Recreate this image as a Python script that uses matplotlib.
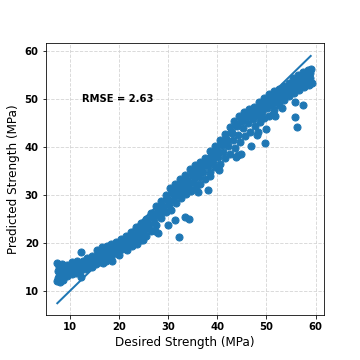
import matplotlib
matplotlib.use("Agg")
import matplotlib.pyplot as plt

line_x = [7.5, 59.0]
line_y = [7.5, 59.0]

# Upper edge of the point band
upper_x = [7.5, 8.5, 9.5, 10.5, 11.5, 12.4, 13.5, 14.5, 15.5, 16.5, 17.5, 18.5, 19.5, 20.5, 21.5, 22.5, 23.5, 24.5, 25.5, 26.5, 27.5, 28.5, 29.5, 30.5, 31.5, 32.5, 33.5, 34.5, 35.5, 36.5, 37.5, 38.5, 39.5, 40.5, 41.5, 42.5, 43.5, 44.5, 45.5, 46.5, 47.5, 48.5, 49.5, 50.5, 51.5, 52.5, 53.5, 54.5, 55.5, 56.5, 57.5, 58.5, 59.0]
upper_y = [15.8, 15.6, 15.5, 16.0, 16.4, 18.2, 17.0, 17.4, 18.6, 19.3, 19.5, 19.8, 20.3, 20.9, 21.6, 22.4, 23.4, 24.2, 25.0, 26.2, 27.8, 28.7, 30.0, 31.5, 32.4, 33.3, 34.2, 35.4, 36.2, 37.0, 37.8, 39.2, 40.3, 41.4, 42.8, 44.2, 45.5, 46.6, 47.4, 48.0, 48.4, 49.4, 50.3, 51.0, 51.6, 52.2, 52.8, 53.4, 54.4, 55.0, 55.6, 56.0, 56.2]

# Between the upper edge and the middle
upper_mid_x = [7.8, 8.8, 9.8, 10.8, 11.8, 12.8, 13.8, 14.8, 15.8, 16.8, 17.8, 18.8, 19.8, 20.8, 21.8, 22.8, 23.8, 24.8, 25.8, 26.8, 27.8, 28.8, 29.8, 30.8, 31.8, 32.8, 33.8, 34.8, 35.8, 36.8, 37.8, 38.8, 39.8, 40.8, 41.8, 42.8, 43.8, 44.8, 45.8, 46.8, 47.8, 48.8, 49.8, 50.8, 51.8, 52.8, 53.8, 54.8, 55.8, 56.8, 57.8, 58.6]
upper_mid_y = [15.0, 14.9, 15.1, 15.6, 15.8, 16.4, 16.6, 17.0, 17.6, 18.2, 18.6, 19.0, 19.6, 20.2, 20.8, 21.6, 22.6, 23.4, 24.2, 25.4, 26.8, 27.8, 29.2, 30.6, 31.4, 32.4, 33.2, 34.4, 35.4, 36.2, 37.0, 38.2, 39.4, 40.6, 41.8, 43.2, 44.6, 45.8, 46.6, 47.2, 47.8, 48.6, 49.4, 50.2, 50.8, 51.6, 52.4, 53.0, 53.8, 54.6, 55.2, 55.6]

# Middle of the band
mid_x = [7.6, 8.2, 9.0, 10.0, 11.0, 12.0, 13.0, 14.0, 15.0, 16.0, 17.0, 18.0, 19.0, 20.0, 21.0, 22.0, 23.0, 24.0, 25.0, 26.0, 27.0, 28.0, 29.0, 30.0, 31.0, 32.0, 33.0, 34.0, 35.0, 36.0, 37.0, 38.0, 39.0, 40.0, 41.0, 42.0, 43.0, 44.0, 45.0, 46.0, 47.0, 48.0, 49.0, 50.0, 51.0, 52.0, 53.0, 54.0, 55.0, 56.0, 57.0, 58.0, 58.8]
mid_y = [14.2, 14.0, 14.4, 14.8, 15.0, 15.4, 15.8, 16.2, 16.8, 17.4, 17.8, 18.2, 18.6, 19.4, 20.0, 20.8, 21.6, 22.4, 23.2, 24.0, 25.4, 26.6, 27.8, 29.0, 30.2, 31.2, 32.0, 32.8, 34.0, 35.0, 36.0, 37.0, 38.2, 39.2, 40.4, 41.6, 43.0, 44.4, 45.4, 46.4, 47.0, 47.8, 48.6, 49.4, 50.0, 50.6, 51.4, 52.2, 53.0, 53.8, 54.4, 55.0, 55.4]

# Between the middle and the lower edge
lower_mid_x = [7.9, 8.5, 9.2, 10.2, 11.2, 12.2, 13.2, 14.2, 15.2, 16.2, 17.2, 18.2, 19.2, 20.2, 21.2, 22.2, 23.2, 24.2, 25.2, 26.2, 27.2, 28.2, 29.2, 30.2, 31.2, 32.2, 33.2, 34.2, 35.2, 36.2, 37.2, 38.2, 39.2, 40.2, 41.2, 42.2, 43.2, 44.2, 45.2, 46.2, 47.2, 48.2, 49.2, 50.2, 51.2, 52.2, 53.2, 54.2, 55.2, 56.2, 57.2, 58.2, 58.9]
lower_mid_y = [13.2, 13.2, 13.8, 14.2, 14.4, 14.8, 15.2, 15.6, 16.2, 16.8, 17.2, 17.6, 18.0, 18.8, 19.4, 20.0, 20.6, 21.4, 22.2, 23.2, 24.4, 25.6, 26.8, 28.0, 29.0, 30.0, 30.8, 31.8, 32.8, 33.8, 34.8, 36.0, 37.0, 38.0, 39.0, 40.2, 41.4, 42.6, 44.0, 45.0, 45.8, 46.6, 47.4, 48.2, 48.8, 49.6, 50.4, 51.2, 52.0, 52.8, 53.4, 54.0, 54.4]

# Lower edge of the band
lower_x = [7.5, 7.7, 8.0, 8.6, 9.4, 10.4, 11.4, 12.2, 13.4, 14.6, 15.4, 16.2, 17.4, 18.4, 19.6, 20.6, 21.6, 22.6, 23.6, 24.6, 25.6, 26.6, 27.6, 28.6, 29.6, 30.6, 31.6, 32.6, 33.6, 34.6, 35.6, 36.6, 37.6, 38.6, 39.6, 40.6, 41.6, 42.6, 43.6, 44.6, 45.6, 46.6, 47.6, 48.6, 49.6, 50.6, 51.6, 52.6, 53.6, 54.6, 55.6, 56.6, 57.6, 58.6]
lower_y = [12.2, 12.8, 11.9, 12.4, 13.2, 13.6, 13.8, 14.0, 14.6, 15.0, 15.6, 16.0, 16.4, 17.2, 18.0, 18.8, 18.6, 19.4, 19.8, 20.6, 21.6, 22.6, 23.8, 25.2, 26.4, 27.0, 28.4, 29.4, 30.2, 30.8, 31.8, 32.4, 33.4, 34.8, 35.8, 36.4, 37.8, 38.6, 39.8, 41.0, 42.4, 43.2, 44.4, 45.2, 46.0, 46.6, 47.8, 48.8, 49.8, 50.6, 51.2, 52.0, 52.6, 53.0]

# Points falling clearly below the band
stray_x = [12.4, 16.8, 18.7, 20.1, 28.0, 27.4, 29.9, 31.4, 32.3, 33.4, 34.2, 38.2, 38.5, 40.4, 43.8, 44.3, 44.8, 46.9, 48.0, 48.2, 49.8, 50.0, 51.4, 51.8, 53.1, 55.8, 55.9, 56.3, 57.5, 59.2, 25.0, 36.0]
stray_y = [12.9, 15.9, 16.2, 17.6, 22.1, 22.5, 23.8, 24.9, 21.3, 25.5, 25.1, 31.1, 34.0, 35.2, 37.9, 38.3, 38.6, 40.2, 42.6, 43.2, 40.9, 43.8, 47.0, 46.6, 48.1, 49.4, 46.3, 44.2, 48.8, 53.3, 20.6, 30.6]

x_ticks = [10, 20, 30, 40, 50, 60]
y_ticks = [10, 20, 30, 40, 50, 60]

all_x = upper_x + upper_mid_x + mid_x + lower_mid_x + lower_x + stray_x
all_y = upper_y + upper_mid_y + mid_y + lower_mid_y + lower_y + stray_y

fig = plt.figure(figsize=(5, 5), dpi=72)
ax = fig.add_axes([45.5/360, 1-315/360, (324-45.5)/360, (315-43)/360])
ax.grid(True, linestyle="--", color="lightgray", alpha=0.9, linewidth=0.9)
ax.set_axisbelow(True)
ax.plot(line_x, line_y, color="#1f77b4", linewidth=2.0)
ax.scatter(all_x, all_y, s=50, color="#1f77b4", zorder=3)
ax.set_xlim(5.1, 61.7)
ax.set_ylim(5.05, 61.7)
ax.set_xticks(x_ticks)
ax.set_yticks(y_ticks)
ax.tick_params(labelsize=10)
for t in ax.get_xticklabels() + ax.get_yticklabels():
    t.set_fontweight("bold")
ax.set_xlabel("Desired Strength (MPa)", fontsize=12)
ax.set_ylabel("Predicted Strength (MPa)", fontsize=12)
ax.text(12.5, 50, "RMSE = 2.63", fontsize=10, fontweight="bold", va="center")
fig.savefig("out.png", dpi=72)
